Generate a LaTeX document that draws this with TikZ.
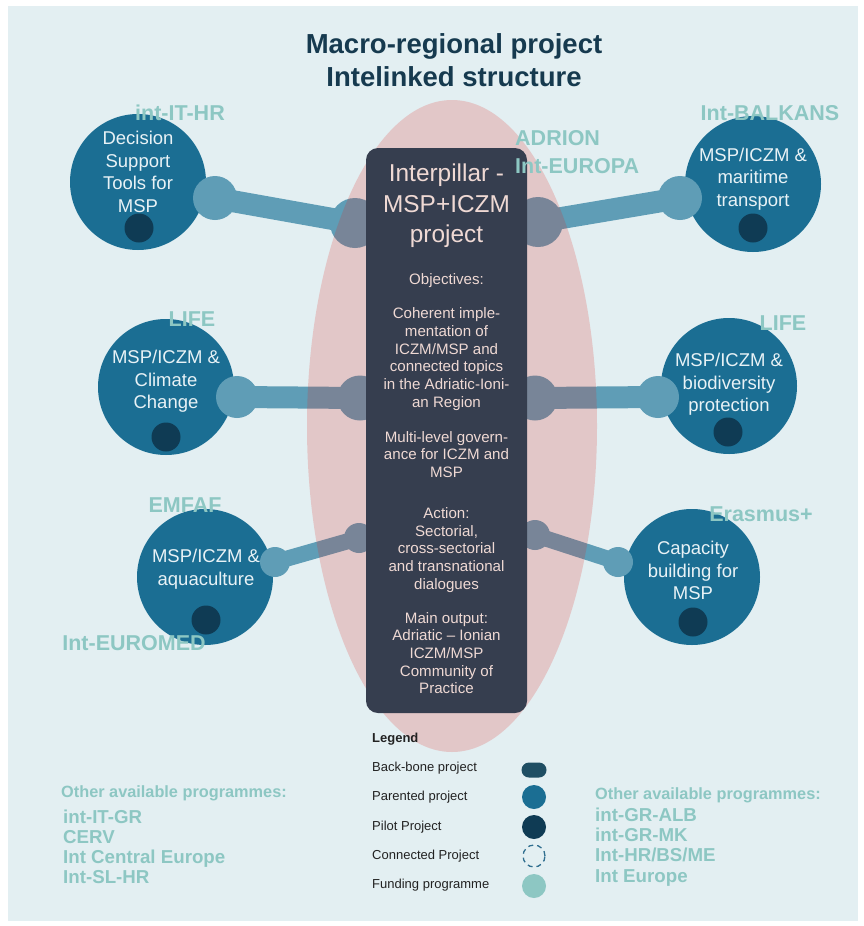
\documentclass[tikz,border=0pt]{standalone}
\usepackage{fontspec}
\setmainfont{Liberation Sans}
\definecolor{bgc}{HTML}{E3EFF2}
\definecolor{titlec}{HTML}{163A4F}
\definecolor{parentc}{HTML}{1B6E93}
\definecolor{pilotc}{HTML}{0F3B54}
\definecolor{connc}{HTML}{5F9DB6}
\definecolor{ellc}{HTML}{DE2720}
\definecolor{boxc}{HTML}{363E4F}
\definecolor{boxtext}{HTML}{EFD9D4}
\definecolor{circtext}{HTML}{E8F2F6}
\definecolor{tealc}{HTML}{8DC7C3}
\definecolor{backbonec}{HTML}{1F4E63}
\definecolor{legtext}{HTML}{222222}
\definecolor{dashc}{HTML}{2F6E8F}
\begin{document}
\begin{tikzpicture}[x=1pt,y=-1pt,
  parent/.style={circle,fill=parentc,minimum size=136pt,inner sep=0pt},
  pilot/.style={circle,fill=pilotc,minimum size=29pt,inner sep=0pt},
  nub/.style={circle,fill=connc,inner sep=0pt,minimum size=#1},
  conn/.style={draw=connc,line width=#1},
  ctext/.style={text=circtext,align=center,font=\fontsize{18.5}{22.7}\selectfont},
  lbl/.style={text=tealc,font=\bfseries\fontsize{21.5}{26}\selectfont,inner sep=0pt},
  btext/.style={text=boxtext,align=center,font=\fontsize{15.1}{17.7}\selectfont,inner sep=0pt},
  legt/.style={text=legtext,anchor=west,font=\fontsize{13}{15}\selectfont,inner sep=0pt},
  legsym/.style={circle,minimum size=24pt,inner sep=0pt},
  othh/.style={text=tealc,anchor=west,font=\bfseries\fontsize{16.3}{20}\selectfont,inner sep=0pt},
  othl/.style={text=tealc,anchor=west,align=left,font=\bfseries\fontsize{18.7}{20.2}\selectfont,inner sep=0pt}
]
\useasboundingbox (0,0) rectangle (863,926);
\fill[white] (0,0) rectangle (863,926);
\fill[bgc] (8,6) rectangle (858,921);

% title
\node[text=titlec,font=\bfseries\fontsize{27.5}{33}\selectfont,align=center] (title) at (454,60) {Macro-regional project\\Intelinked structure};

% parented project circles
\node[parent] (c1) at (138,182) {};
\node[parent] (c2) at (753,184) {};
\node[parent] (c3) at (166,387) {};
\node[parent] (c4) at (729,386) {};
\node[parent] (c5) at (205,577) {};
\node[parent] (c6) at (692,577) {};

% connectors
\node[nub=44pt] (a1) at (215,198) {};
\node[nub=50pt] (b1) at (355,223) {};
\node[nub=44pt] (a2) at (680,198) {};
\node[nub=50pt] (b2) at (538,222) {};
\node[nub=42pt] (a3) at (237,397) {};
\node[nub=45pt] (b3) at (360,398) {};
\node[nub=42pt] (a4) at (658,397) {};
\node[nub=45pt] (b4) at (535,398) {};
\node[nub=30pt] (a5) at (275,562) {};
\node[nub=30pt] (b5) at (359,538) {};
\node[nub=30pt] (a6) at (618,562) {};
\node[nub=30pt] (b6) at (535,535) {};
\draw[conn=22pt] (a1.center) -- (b1.center);
\draw[conn=22pt] (a2.center) -- (b2.center);
\draw[conn=22pt] (a3.center) -- (b3.center);
\draw[conn=22pt] (a4.center) -- (b4.center);
\draw[conn=16pt] (a5.center) -- (b5.center);
\draw[conn=16pt] (a6.center) -- (b6.center);

% macro-regional ellipse
\fill[ellc,fill opacity=0.2] (452,426) ellipse [x radius=145pt, y radius=326pt];

% back-bone project box
\node[fill=boxc,rounded corners=12pt,minimum width=161pt,minimum height=565pt,inner sep=0pt] (box) at (446.5,430.5) {};

% pilot dots
\node[pilot] (p1) at (139,228) {};
\node[pilot] (p2) at (753,228) {};
\node[pilot] (p3) at (166,437) {};
\node[pilot] (p4) at (728,432) {};
\node[pilot] (p5) at (206,620) {};
\node[pilot] (p6) at (693,622) {};

% circle texts
\node[ctext] (t1) at (138,172) {Decision\\Support\\Tools for\\MSP};
\node[ctext] (t2) at (753,179) {MSP/ICZM \&\\maritime\\transport};
\node[ctext] (t3) at (166,381.5) {MSP/ICZM \&\\Climate\\Change};
\node[ctext] (t4) at (729,384.5) {MSP/ICZM \&\\biodiversity\\protection};
\node[ctext] (t5) at (206,569.5) {MSP/ICZM \&\\aquaculture};
\node[ctext] (t6) at (693,570.5) {Capacity\\building for\\MSP};

% box texts
\node[btext,font=\fontsize{24.4}{30.5}\selectfont] (bt0) at (446.5,206) {Interpillar -\\MSP+ICZM\\project};
\node[btext] (bt1) at (446.5,281) {Objectives:};
\node[btext] (bt2) at (446.5,359) {Coherent imple-\\mentation of\\ICZM/MSP and\\connected topics\\in the Adriatic-Ioni-\\an Region};
\node[btext] (bt3) at (446.5,454.5) {Multi-level govern-\\ance for ICZM and\\MSP};
\node[btext] (bt4) at (446.5,550) {Action:\\Sectorial,\\cross-sectorial\\and transnational\\dialogues};
\node[btext] (bt5) at (446.5,653) {Main output:\\Adriatic – Ionian\\ICZM/MSP\\Community of\\Practice};

% funding programme labels
\node[lbl] (l1) at (180,113) {int-IT-HR};
\node[lbl] (l2) at (770,113) {Int-BALKANS};
\node[lbl,anchor=west] (l3) at (515,138) {ADRION};
\node[lbl,anchor=west] (l4) at (515,166) {Int-EUROPA};
\node[lbl] (l5) at (192,319) {LIFE};
\node[lbl] (l6) at (783,323) {LIFE};
\node[lbl] (l7) at (185,505) {EMFAF};
\node[lbl] (l8) at (134,643) {Int-EUROMED};
\node[lbl] (l9) at (761,514) {Erasmus+};

% legend
\node[legt,font=\bfseries\fontsize{13}{15}\selectfont] (legh) at (372,739) {Legend};
\node[legt] (lg1) at (372,768) {Back-bone project};
\node[legt] (lg2) at (372,797) {Parented project};
\node[legt] (lg3) at (372,827) {Pilot Project};
\node[legt] (lg4) at (372,856) {Connected Project};
\node[legt] (lg5) at (372,885) {Funding programme};
\node[fill=backbonec,rounded corners=7.5pt,minimum width=25pt,minimum height=15pt,inner sep=0pt] (s1) at (534,770) {};
\node[legsym,fill=parentc] (s2) at (534,797) {};
\node[legsym,fill=pilotc] (s3) at (534,827) {};
\node[legsym,draw=dashc,line width=1.3pt,dash pattern=on 5pt off 4pt,minimum size=22pt] (s4) at (534,856) {};
\node[legsym,fill=tealc] (s5) at (534,886) {};

% other available programmes
\node[othh] (oh1) at (61,793) {Other available programmes:};
\node[othl] (ol1) at (63,847) {int-IT-GR\\CERV\\Int Central Europe\\Int-SL-HR};
\node[othh] (oh2) at (595,795) {Other available programmes:};
\node[othl] (ol2) at (595,847) {int-GR-ALB\\int-GR-MK\\Int-HR/BS/ME\\Int Europe};
\end{tikzpicture}
\end{document}
